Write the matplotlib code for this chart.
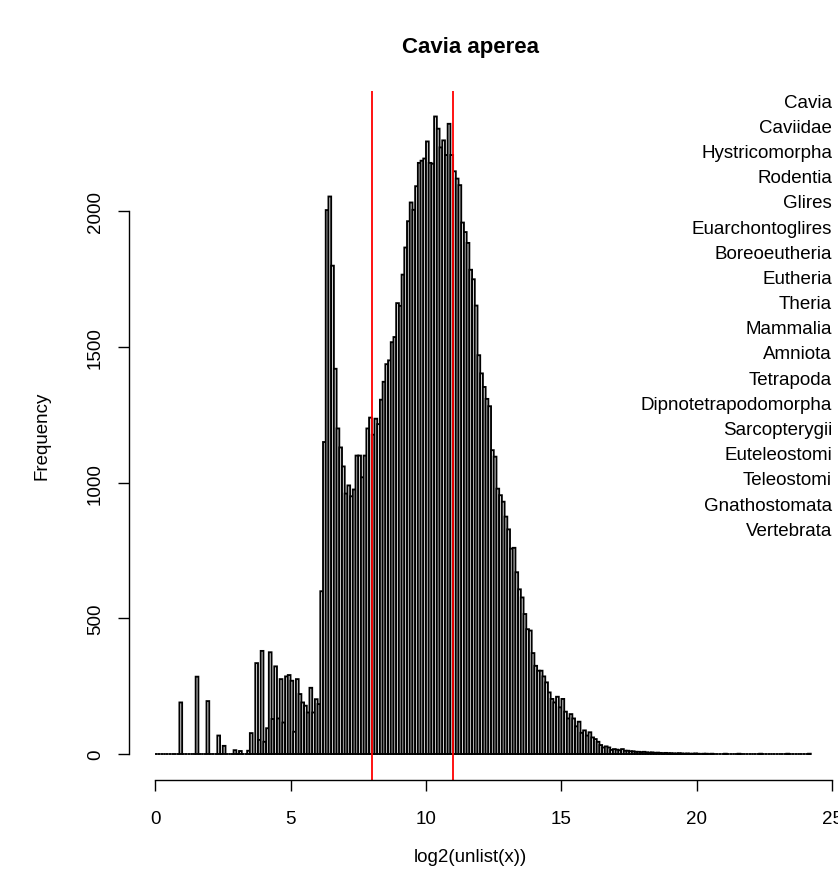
import matplotlib

matplotlib.use("Agg")
import matplotlib.pyplot as plt
import numpy as np

FIG_W, FIG_H, DPI = 838, 887, 100
FONT = ["Liberation Sans", "DejaVu Sans"]

# bin edges of the histogram (width 0.1 from 0 to 24.2)
bin_start = 0.0
bin_end = 24.2
bin_width = 0.1

# counts per bin, ten bins per row
counts = [
    0, 0, 0, 0, 0, 0, 0, 0, 0, 190,
    0, 0, 0, 0, 0, 285, 0, 0, 0, 195,
    0, 0, 0, 68, 0, 30, 0, 0, 0, 14,
    0, 11, 0, 0, 12, 77, 0, 335, 52, 380,
    45, 95, 375, 129, 323, 131, 276, 116, 286, 291,
    270, 82, 276, 221, 190, 178, 153, 244, 153, 202,
    184, 600, 1150, 2005, 2055, 1800, 1420, 1200, 1130, 1060,
    960, 990, 950, 975, 1100, 1100, 1020, 1100, 1200, 1240,
    1177, 1236, 1216, 1306, 1372, 1437, 1451, 1518, 1537, 1662,
    1652, 1767, 1867, 1964, 2033, 2006, 2093, 2179, 2187, 2195,
    2258, 2179, 2176, 2350, 2305, 2236, 2262, 2208, 2323, 2208,
    2148, 2121, 2097, 1959, 1924, 1884, 1785, 1750, 1653, 1470,
    1403, 1353, 1309, 1282, 1120, 1096, 978, 954, 930, 875,
    828, 757, 760, 670, 607, 577, 516, 460, 455, 372,
    325, 307, 307, 286, 264, 227, 203, 190, 211, 172,
    203, 156, 131, 147, 131, 102, 119, 78, 87, 68,
    80, 61, 55, 45, 33, 24, 28, 24, 15, 18,
    16, 14, 18, 12, 12, 10, 10, 8, 8, 7,
    8, 6, 5, 6, 4, 5, 4, 3, 4, 3,
    3, 2, 2, 3, 2, 1, 2, 1, 1, 2,
    1, 0, 1, 1, 0, 1, 0, 0, 0, 0,
    1, 0, 0, 0, 0, 1, 0, 0, 0, 0,
    0, 0, 0, 1, 0, 0, 0, 0, 0, 0,
    0, 0, 0, 1, 0, 0, 0, 0, 0, 0,
    0, 1,
]

cutoffs = [8, 11]
x_ticks = [0, 5, 10, 15, 20, 25]
y_ticks = [0, 500, 1000, 1500, 2000]

lineage = [
    "Cavia", "Caviidae", "Hystricomorpha", "Rodentia", "Glires",
    "Euarchontoglires", "Boreoeutheria", "Eutheria", "Theria", "Mammalia",
    "Amniota", "Tetrapoda", "Dipnotetrapodomorpha", "Sarcopterygii",
    "Euteleostomi", "Teleostomi", "Gnathostomata", "Vertebrata",
]

title = "Cavia aperea"
x_label = "log2(unlist(x))"
y_label = "Frequency"


def px(x, y):
    """pixel position (from top left) -> figure fraction"""
    return x / FIG_W, 1 - y / FIG_H


plt.rcParams["font.family"] = FONT
fig = plt.figure(figsize=(FIG_W / DPI, FIG_H / DPI), dpi=DPI)
fig.patch.set_facecolor("white")

# plot region like R's usr with 4% padding
left, right, top, bottom = 128.8, 837.0, 92.0, 780.5
ax = fig.add_axes([left / FIG_W, 1 - bottom / FIG_H, (right - left) / FIG_W, (bottom - top) / FIG_H])

n_bins = int(round((bin_end - bin_start) / bin_width))
edges = np.linspace(bin_start, bin_end, n_bins + 1)
ymax = max(counts)

# unfilled bars like R's hist(); no snapping so they render evenly
ax.bar(
    edges[:-1],
    counts,
    width=bin_width,
    align="edge",
    facecolor="white",
    edgecolor="black",
    linewidth=1.35,
    snap=False,
)

for c in cutoffs:
    ax.axvline(c, color="#ff0000", linewidth=1.3)

ax.set_xlim(bin_start - 0.04 * (bin_end - bin_start), bin_end + 0.04 * (bin_end - bin_start))
ax.set_ylim(-0.04 * ymax, 1.04 * ymax)

for side in ["top", "right"]:
    ax.spines[side].set_visible(False)
ax.spines["bottom"].set_bounds(x_ticks[0], x_ticks[-1])
ax.spines["left"].set_bounds(y_ticks[0], y_ticks[-1])
for side in ["bottom", "left"]:
    ax.spines[side].set_linewidth(1.0)

ax.set_xticks(x_ticks)
ax.set_yticks(y_ticks)
ax.tick_params(axis="both", direction="out", length=8, width=1.0, labelsize=13.5)
ax.tick_params(axis="x", pad=14)
ax.tick_params(axis="y", pad=10)
for lab in ax.get_yticklabels():
    lab.set_rotation(90)
    lab.set_va("center")

fig.text(*px(471, 47), title, ha="center", va="center", fontsize=16, fontweight="bold")
fig.text(*px(470, 858), x_label, ha="center", va="center", fontsize=13.5)
fig.text(*px(42, 436), y_label, ha="center", va="center", fontsize=13.5, rotation=90)

# lineage list on the right
for i, name in enumerate(lineage):
    fig.text(*px(832, 103 + i * 25.2), name, ha="right", va="center", fontsize=13.5)

fig.savefig("out.png", dpi=DPI)
plt.close(fig)
